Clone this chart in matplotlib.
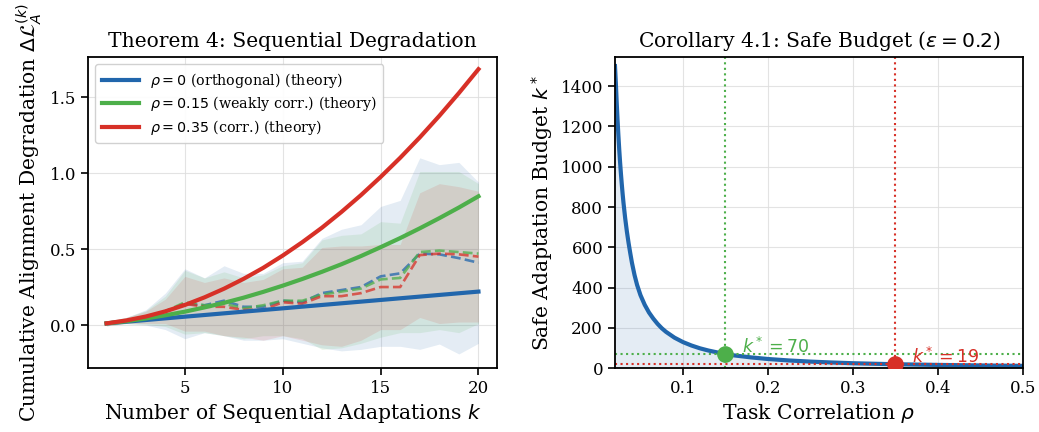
import numpy as np
import matplotlib
matplotlib.use("Agg")
import matplotlib.pyplot as plt

# ---------------- data ----------------
ks = list(range(1, 21))

theory_blue = [0.011, 0.022, 0.033, 0.044, 0.055, 0.066, 0.077, 0.088, 0.099, 0.110,
               0.121, 0.132, 0.143, 0.154, 0.165, 0.176, 0.187, 0.198, 0.209, 0.220]
theory_green = [0.011, 0.025, 0.043, 0.064, 0.088, 0.116, 0.146, 0.180, 0.218, 0.259,
                0.303, 0.350, 0.400, 0.454, 0.512, 0.572, 0.636, 0.703, 0.773, 0.847]
theory_red = [0.011, 0.030, 0.056, 0.090, 0.132, 0.182, 0.239, 0.304, 0.376, 0.457,
              0.545, 0.640, 0.744, 0.855, 0.974, 1.100, 1.234, 1.376, 1.526, 1.683]

emp_blue = [0.01, 0.03, 0.05, 0.09, 0.14, 0.13, 0.16, 0.12, 0.12, 0.16,
            0.15, 0.21, 0.23, 0.25, 0.32, 0.34, 0.47, 0.465, 0.44, 0.41]
emp_green = [0.01, 0.03, 0.05, 0.09, 0.15, 0.13, 0.14, 0.11, 0.13, 0.16,
             0.16, 0.20, 0.22, 0.24, 0.30, 0.31, 0.48, 0.49, 0.48, 0.47]
emp_red = [0.01, 0.03, 0.05, 0.09, 0.14, 0.12, 0.12, 0.10, 0.10, 0.15,
           0.14, 0.19, 0.19, 0.21, 0.25, 0.25, 0.46, 0.47, 0.465, 0.45]

std_blue = [0.015, 0.02, 0.05, 0.12, 0.23, 0.18, 0.23, 0.22, 0.22, 0.25,
            0.27, 0.36, 0.40, 0.41, 0.46, 0.48, 0.63, 0.59, 0.63, 0.53]
std_green = [0.015, 0.02, 0.045, 0.10, 0.21, 0.18, 0.21, 0.20, 0.20, 0.23,
             0.25, 0.36, 0.37, 0.36, 0.38, 0.36, 0.53, 0.52, 0.53, 0.46]
std_red = [0.015, 0.02, 0.04, 0.08, 0.18, 0.16, 0.19, 0.18, 0.20, 0.22,
           0.24, 0.32, 0.33, 0.31, 0.28, 0.28, 0.41, 0.46, 0.445, 0.43]

labels = [r"$\rho = 0$ (orthogonal) (theory)",
          r"$\rho = 0.15$ (weakly corr.) (theory)",
          r"$\rho = 0.35$ (corr.) (theory)"]

rho_grid = [0.020, 0.021, 0.022, 0.023, 0.024, 0.025, 0.026, 0.027, 0.028, 0.029,
            0.030, 0.032, 0.034, 0.036, 0.038, 0.040, 0.043, 0.046, 0.050, 0.055,
            0.060, 0.065, 0.070, 0.075, 0.080, 0.090, 0.100, 0.110, 0.120, 0.130,
            0.140, 0.150, 0.160, 0.180, 0.200, 0.225, 0.250, 0.275, 0.300, 0.325,
            0.350, 0.400, 0.450, 0.500]
k_star = [1500, 1417, 1320, 1233, 1156, 1085, 1022, 965, 913, 865,
          821, 744, 678, 621, 570, 522, 462, 413, 362, 314,
          276, 246, 220, 198, 180, 151, 129, 112, 98, 87,
          78, 70, 63, 53, 45, 37.6, 32, 27.7, 24, 21.4,
          19, 15.6, 13, 11]

marked_rho = [0.15, 0.35]
marked_k = [70, 19]

# ---------------- style ----------------
plt.rcParams["font.family"] = ["DejaVu Serif"]
plt.rcParams["mathtext.fontset"] = "dejavusans"

c_blue = "#2166ac"
c_green = "#4daf4a"
c_red = "#d73027"
colors = [c_blue, c_green, c_red]

fig = plt.figure(figsize=(10.39, 4.32), dpi=100)
ax1 = fig.add_axes([0.0847, 0.148, 0.3937, 0.72])
ax2 = fig.add_axes([0.5919, 0.148, 0.3927, 0.72])

for ax in (ax1, ax2):
    ax.grid(True, color="#dddddd", linewidth=0.8, alpha=0.8)
    ax.set_axisbelow(True)
    for s in ax.spines.values():
        s.set_linewidth(1.3)
        s.set_color("black")
    ax.tick_params(axis="both", labelsize=12, length=5, width=1.2, direction="out")

# ---------------- left panel ----------------
means = [emp_blue, emp_green, emp_red]
stds = [std_blue, std_green, std_red]
theories = [theory_blue, theory_green, theory_red]

for m, s, c in zip(means, stds, colors):
    m = np.array(m); s = np.array(s)
    ax1.fill_between(ks, m - s, m + s, color=c, alpha=0.12, linewidth=0)
for m, c in zip(means, colors):
    ax1.plot(ks, m, linestyle="--", color=c, linewidth=1.9, alpha=0.75)
for t, c, lab in zip(theories, colors, labels):
    ax1.plot(ks, t, color=c, linewidth=3.0, label=lab)

ax1.set_xlim(0.05, 20.95)
ax1.set_ylim(-0.283, 1.763)
ax1.set_xticks([5, 10, 15, 20])
ax1.set_yticks([0.0, 0.5, 1.0, 1.5])
ax1.set_title("Theorem 4: Sequential Degradation", fontsize=14.6, pad=7)
ax1.set_xlabel(r"Number of Sequential Adaptations $k$", fontsize=14.6)
ax1.set_ylabel(r"Cumulative Alignment Degradation $\Delta\mathcal{L}_A^{(k)}$", fontsize=14.6)
ax1.legend(loc="upper left", fontsize=10.3, frameon=True, edgecolor="#cccccc",
           fancybox=True, framealpha=0.9, handlelength=2.6, labelspacing=0.32,
           borderpad=0.45)

# ---------------- right panel ----------------
ax2.fill_between(rho_grid, 0, k_star, color=c_blue, alpha=0.12, linewidth=0)
ax2.plot(rho_grid, k_star, color=c_blue, linewidth=3.0)
for r, k, c in zip(marked_rho, marked_k, [c_green, c_red]):
    ax2.axvline(r, color=c, linestyle=":", linewidth=1.5)
    ax2.axhline(k, color=c, linestyle=":", linewidth=1.5)
    ax2.plot([r], [k], "o", color=c, markersize=11, zorder=5)
ax2.text(marked_rho[0] + 0.02, marked_k[0] + 35, r"$k^* = %d$" % marked_k[0],
         color=c_green, fontsize=12.5, va="center", ha="left")
ax2.text(marked_rho[1] + 0.02, marked_k[1] + 35, r"$k^* = %d$" % marked_k[1],
         color=c_red, fontsize=12.5, va="center", ha="left")

ax2.set_xlim(0.02, 0.5)
ax2.set_ylim(0, 1545)
ax2.set_xticks([0.1, 0.2, 0.3, 0.4, 0.5])
ax2.set_yticks(list(range(0, 1401, 200)))
ax2.set_title(r"Corollary 4.1: Safe Budget ($\varepsilon = 0.2$)", fontsize=14.6, pad=7)
ax2.set_xlabel(r"Task Correlation $\rho$", fontsize=14.6)
ax2.set_ylabel(r"Safe Adaptation Budget $k^*$", fontsize=14.6)

fig.savefig("out.png", dpi=100)
